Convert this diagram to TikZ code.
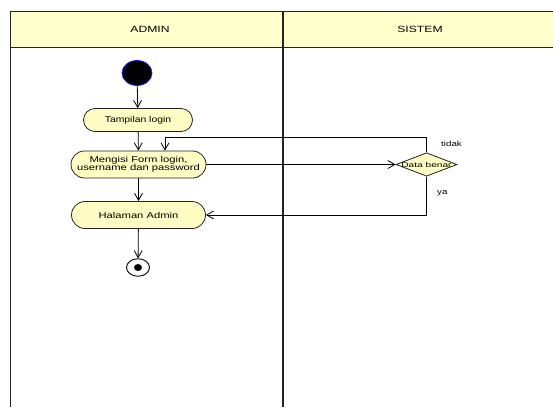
\documentclass[tikz,border=0pt]{standalone}
\usepackage{fontspec}
\setmainfont{Liberation Sans}
\usepackage{graphicx}
\usetikzlibrary{arrows.meta,shapes.geometric}

\definecolor{lanehead}{RGB}{255,255,204}
\definecolor{actfill}{RGB}{255,252,196}
\definecolor{startblue}{RGB}{30,30,235}
\definecolor{rule}{RGB}{35,35,35}

% labels are set a little wider than the font's natural width
\newcommand\wide[2][1.3]{\scalebox{#1}[1]{#2}}

\begin{document}
\begin{tikzpicture}[x=1pt,y=-1pt,
  every node/.style={inner sep=0pt},
  activity/.style={rectangle, draw=rule, line width=0.8pt, fill=actfill,
    font=\fontsize{8.5}{9.5}\selectfont, align=center},
  decision/.style={diamond, draw=rule, line width=0.8pt, fill=actfill,
    minimum width=61pt, minimum height=23.5pt},
  flow/.style={draw=black, line width=0.8pt,
    -{Straight Barb[length=7pt,width=8pt,line width=0.8pt]}},
  lane/.style={draw=rule, line width=0.9pt},
  headtext/.style={font=\fontsize{9}{10}\selectfont},
  guard/.style={font=\fontsize{7.5}{8}\selectfont, anchor=west}]

\useasboundingbox (0,0) rectangle (553,407);

% swimlane headers
\fill[lanehead] (10,11) rectangle (553,47);
\draw[lane] (10,11) -- (553,11);
\draw[lane] (10,47) -- (553,47);
\draw[lane] (10,11) -- (10,407);
\draw[draw=rule, line width=1.7pt] (283,11) -- (283,407);
\node[headtext] (hAdmin) at (150,29.5) {\wide[1.35]{ADMIN}};
\node[headtext] (hSistem) at (420,29.5) {\wide[1.35]{SISTEM}};

% initial and final states
\node[ellipse, draw=startblue, line width=0.8pt, fill=black,
  minimum width=30pt, minimum height=25pt] (start) at (137,73) {};
\node[ellipse, draw=black, line width=0.9pt, fill=white,
  minimum width=23pt, minimum height=17.5pt] (stop) at (138,267.5) {};
\node[ellipse, fill=black, minimum width=8pt, minimum height=7pt] (stopdot) at (stop.center) {};

% activities
\node[activity, rounded corners=11.5pt, minimum width=109pt, minimum height=23pt]
  (tampil) at (138,120) {\wide[1.22]{Tampilan login}};
\node[activity, rounded corners=13.5pt, minimum width=135pt, minimum height=27pt]
  (form) at (138.5,164.5) {\wide[1.32]{\begin{tabular}{@{}c@{}}Mengisi Form login,\\[-1.8pt]username dan password\end{tabular}}};
\node[activity, rounded corners=13.5pt, minimum width=134pt, minimum height=27pt]
  (admin) at (138.5,215) {\wide[1.32]{Halaman Admin}};

% decision
\node[decision, label={[font=\fontsize{7}{8}\selectfont]center:\wide[1.45]{Data benar}}]
  (cek) at (426.5,164.5) {};
\node[guard] (lblTidak) at (441,144) {\wide[1.3]{tidak}};
\node[guard] (lblYa) at (437,193.5) {\wide[1.3]{ya}};

% control flow
\coordinate (loopTop) at (165,137);
\draw[flow] (start) -- (tampil);
\draw[flow] (tampil) -- (form);
\draw[flow] (form) -- (admin);
\draw[flow] (admin) -- (stop);
\draw[flow] (form.east) -- (cek.west);
\draw[flow] (cek.north) |- (loopTop) -- (loopTop |- form.north);
\draw[flow] (cek.south) |- (admin.east);
\end{tikzpicture}
\end{document}
